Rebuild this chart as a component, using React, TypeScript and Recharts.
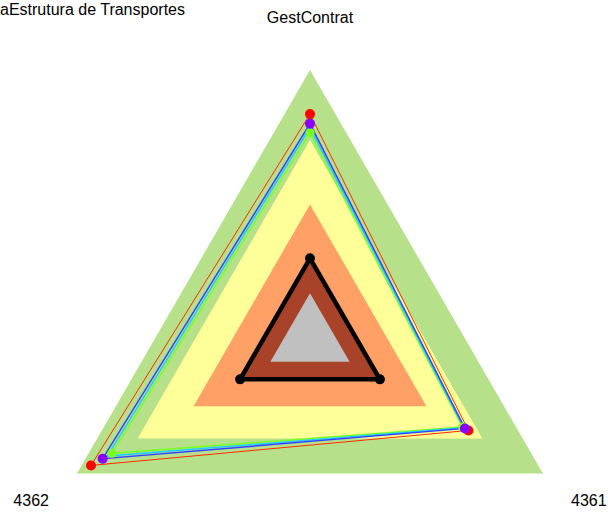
import React from "react"
import { PolarAngleAxis, PolarGrid, PolarRadiusAxis, Radar, RadarChart } from "recharts"

const categories = ["GestContrat", "4361", "4362"]

// faixas de fundo
const bandGreen = [100, 100, 100]
const bandYellow = [74, 74, 74]
const bandOrange = [50, 50, 50]
const bandBrown = [30, 30, 30]
const bandGrey = [17, 17, 17]

// séries
const serieRed = [83.6, 68, 94]
const serieBlue = [80, 66.5, 89]
const serieCyan = [78.5, 66, 87]
const serieGreen = [76.7, 65.5, 85]
const serieBlack = [30, 30, 30]

const data = categories.map((name, i) => ({
    name,
    green: bandGreen[i],
    yellow: bandYellow[i],
    orange: bandOrange[i],
    brown: bandBrown[i],
    grey: bandGrey[i],
    red: serieRed[i],
    blue: serieBlue[i],
    cyan: serieCyan[i],
    lime: serieGreen[i],
    black: serieBlack[i],
}))

const CX = 310
const CY = 339
const FONT = "'Liberation Sans', Arial, sans-serif"

function AngleTick(props: any) {
    const { x, y, payload } = props
    const dx = x - CX
    const dy = y - CY
    const len = Math.sqrt(dx * dx + dy * dy) || 1
    const px = x + (dx / len) * 45
    const py = y + (dy / len) * 45
    return (
        <text x={px} y={py} textAnchor="middle" dominantBaseline="central" fontSize={16} fill="#000"
            fontFamily={FONT}>
            {payload.value}
        </text>
    )
}

const makeDot = (r: number, color: string) => (props: any) => {
    const { cx, cy, key } = props
    return <circle key={key} cx={cx} cy={cy} r={r} fill={color} stroke="none" />
}

export default function App() {
    return (
        <div style={{ position: "absolute", left: 0, top: 0, width: 608, height: 512, background: "#fff", overflow: "hidden" }}>
            <div style={{
                position: "absolute", left: 0, top: 1, whiteSpace: "nowrap",
                fontFamily: FONT, fontSize: 16, color: "#000"
            }}>
                aEstrutura de Transportes
            </div>
            <RadarChart width={608} height={512} data={data} cx={CX} cy={CY} outerRadius={269}
                margin={{ top: 0, right: 0, bottom: 0, left: 0 }}>
                <PolarRadiusAxis domain={[0, 100]} tick={false} axisLine={false} />
                <PolarAngleAxis dataKey="name" tick={<AngleTick />} axisLine={false} tickLine={false} />
                <Radar dataKey="green" fill="#b7e08a" fillOpacity={1} stroke="none" isAnimationActive={false} />
                <Radar dataKey="yellow" fill="#ffff99" fillOpacity={1} stroke="none" isAnimationActive={false} />
                <Radar dataKey="orange" fill="#ffa066" fillOpacity={1} stroke="none" isAnimationActive={false} />
                <Radar dataKey="brown" fill="#a8432a" fillOpacity={1} stroke="none" isAnimationActive={false} />
                <Radar dataKey="grey" fill="#c0c0c0" fillOpacity={1} stroke="none" isAnimationActive={false} />
                <PolarGrid polarRadius={[]} stroke="#d6d6d6" />
                <Radar dataKey="red" fill="none" fillOpacity={0} stroke="#ff2a00" strokeWidth={1}
                    dot={makeDot(5, "#ff0000")} isAnimationActive={false} />
                <Radar dataKey="lime" fill="none" fillOpacity={0} stroke="#77ff22" strokeWidth={1.5}
                    dot={makeDot(4.5, "#77ff22")} isAnimationActive={false} />
                <Radar dataKey="cyan" fill="none" fillOpacity={0} stroke="#22ccff" strokeWidth={1.5}
                    dot={false} isAnimationActive={false} />
                <Radar dataKey="blue" fill="none" fillOpacity={0} stroke="#3344ff" strokeWidth={1.5}
                    dot={makeDot(5, "#8800ff")} isAnimationActive={false} />
                <Radar dataKey="black" fill="none" fillOpacity={0} stroke="#000" strokeWidth={4.5}
                    dot={makeDot(5, "#000")} isAnimationActive={false} />
            </RadarChart>
        </div>
    )
}
